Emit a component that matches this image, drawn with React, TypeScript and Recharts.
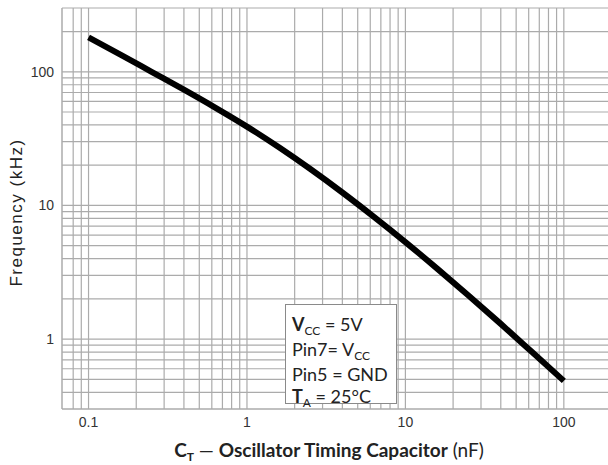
import React from 'react';
import { LineChart, Line, XAxis, YAxis, ReferenceLine } from 'recharts';

// Oscillator timing capacitor (nF)
const capNF = [0.1, 0.16, 0.25, 0.4, 0.63, 1, 1.6, 2.5, 4, 6.3, 10, 16, 25, 40, 63, 100];
// Frequency (kHz)
const freqKHz = [181, 134, 100, 73.5, 54, 38.9, 27.1, 18.8, 12.5, 8.25, 5.32, 3.34, 2.12, 1.3, 0.8, 0.487];

const xTicks = [0.1, 1, 10, 100];
const yTicks = [1, 10, 100];
const xGrid = [0.08, 0.09, 0.1, 0.2, 0.3, 0.4, 0.5, 0.6, 0.7, 0.8, 0.9, 1, 2, 3, 4, 5, 6, 7, 8, 9, 10, 20, 30, 40, 50, 60, 70, 80, 90, 100];
const yGrid = [0.4, 0.5, 0.6, 0.7, 0.8, 0.9, 1, 2, 3, 4, 5, 6, 7, 8, 9, 10, 20, 30, 40, 50, 60, 70, 80, 90, 100, 200, 300];
const xDomain = [0.068, 190];
const yDomain = [0.3, 300];

const data = capNF.map((c, i) => ({ c, f: freqKHz[i] }));

const GRID = '#ababab';
const FONT = '"Liberation Sans", Arial, sans-serif';
const TITLE_FONT = 'Lato, "Open Sans", sans-serif';

const XTick = (props: any) => {
  const { x, y, payload } = props;
  return (
    <text x={x} y={y + 18} textAnchor="middle" fontFamily={FONT} fontSize={14} fill="#333">
      {payload.value}
    </text>
  );
};

const YTick = (props: any) => {
  const { x, y, payload } = props;
  return (
    <text x={x - 8} y={y + 5} textAnchor="end" fontFamily={FONT} fontSize={14} fill="#333">
      {payload.value}
    </text>
  );
};

const XTitle = (props: any) => {
  const vb = props.viewBox || { x: 62, y: 409, width: 546 };
  return (
    <text x={329} y={vb.y + 48} textAnchor="middle" fontFamily={TITLE_FONT} fontSize={19} fill="#222">
      <tspan fontWeight={700}>C</tspan>
      <tspan fontSize={12} fontWeight={700} dy={4}>T</tspan>
      <tspan dy={-4}> — </tspan>
      <tspan fontWeight={700}>Oscillator Timing Capacitor</tspan>
      <tspan> (nF)</tspan>
    </text>
  );
};

const YTitle = (props: any) => {
  const vb = props.viewBox || { x: 0, y: 8, height: 401 };
  const cy = vb.y + vb.height / 2 + 4;
  return (
    <text
      x={22}
      y={cy}
      transform={`rotate(-90, 22, ${cy})`}
      textAnchor="middle"
      fontFamily={FONT}
      fontSize={17}
      letterSpacing={1.5}
      fill="#222"
    >
      Frequency (kHz)
    </text>
  );
};

const sub: React.CSSProperties = { fontSize: 12, position: 'relative', top: 4 };

export default function App() {
  return (
    <div style={{ position: 'absolute', left: 0, top: 0, width: 608, height: 465, background: '#fff' }}>
      <LineChart width={608} height={465} data={data} margin={{ top: 8, right: 0, left: 0, bottom: 0 }}>
        <XAxis
          dataKey="c"
          type="number"
          scale="log"
          domain={xDomain}
          allowDataOverflow
          ticks={xTicks}
          tick={<XTick />}
          tickLine={false}
          tickSize={0}
          tickMargin={0}
          axisLine={{ stroke: GRID, strokeWidth: 1.5 }}
          height={56}
          label={<XTitle />}
        />
        <YAxis
          dataKey="f"
          type="number"
          scale="log"
          domain={yDomain}
          allowDataOverflow
          ticks={yTicks}
          tick={<YTick />}
          tickLine={false}
          tickSize={0}
          tickMargin={0}
          axisLine={{ stroke: GRID, strokeWidth: 1.5 }}
          width={62}
          label={<YTitle />}
        />
        {xGrid.map((v) => (
          <ReferenceLine key={'x' + v} x={v} stroke={GRID} strokeWidth={1.2} />
        ))}
        {yGrid.map((v) => (
          <ReferenceLine key={'y' + v} y={v} stroke={GRID} strokeWidth={1.2} />
        ))}
        <Line
          type="monotone"
          dataKey="f"
          stroke="#000"
          strokeWidth={6}
          dot={false}
          isAnimationActive={false}
        />
      </LineChart>
      <div
        style={{
          position: 'absolute',
          left: 285,
          top: 304,
          width: 112,
          height: 100,
          boxSizing: 'border-box',
          border: '1.5px solid #8a8a8a',
          background: '#fff',
          fontFamily: TITLE_FONT,
          fontSize: 18,
          lineHeight: '22px',
          color: '#222',
          paddingLeft: 6,
          paddingTop: 8,
          whiteSpace: 'nowrap',
        }}
      >
        <div>
          <span style={{ fontWeight: 700 }}>V</span>
          <span style={sub}>CC</span> = 5V
        </div>
        <div>
          Pin7= V<span style={sub}>CC</span>
        </div>
        <div>Pin5 = GND</div>
        <div>
          <span style={{ fontWeight: 700 }}>T</span>
          <span style={sub}>A</span> = 25°C
        </div>
      </div>
    </div>
  );
}
